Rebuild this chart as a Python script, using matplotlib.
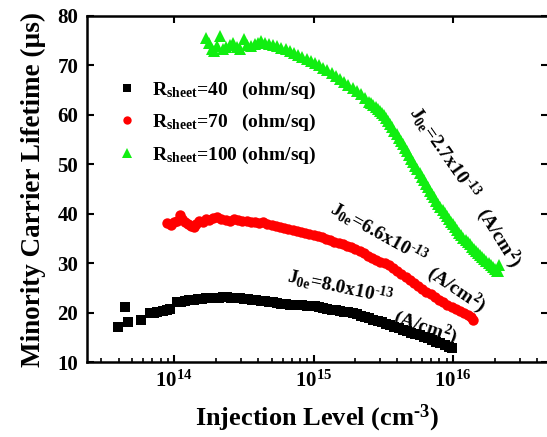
import matplotlib
matplotlib.use("Agg")
import matplotlib.pyplot as plt
from matplotlib.ticker import LogLocator, NullFormatter
import numpy as np

plt.rcParams['font.family'] = ['Liberation Serif', 'DejaVu Serif']
plt.rcParams['font.weight'] = 'bold'
plt.rcParams['mathtext.fontset'] = 'custom'
plt.rcParams['mathtext.rm'] = 'Liberation Serif:bold'
plt.rcParams['mathtext.it'] = 'Liberation Serif:italic:bold'
plt.rcParams['mathtext.bf'] = 'Liberation Serif:bold'
plt.rcParams['mathtext.default'] = 'rm'

# ---- data (log10 injection level, lifetime in us) ----
black_logx = [13.60, 13.65, 13.67, 13.76, 13.83, 13.86, 13.88, 13.92, 13.95, 13.97,
              14.02, 14.05, 14.08, 14.11, 14.14, 14.17, 14.20, 14.23, 14.26, 14.29,
              14.32, 14.35, 14.38, 14.41, 14.44, 14.47, 14.50, 14.53, 14.56, 14.59,
              14.62, 14.65, 14.68, 14.71, 14.74, 14.77, 14.80, 14.83, 14.86, 14.89,
              14.92, 14.95, 14.98, 15.01, 15.04, 15.07, 15.10, 15.13, 15.16, 15.19,
              15.22, 15.25, 15.28, 15.31, 15.34, 15.37, 15.40, 15.43, 15.46, 15.49,
              15.52, 15.55, 15.58, 15.61, 15.64, 15.67, 15.70, 15.73, 15.76, 15.79,
              15.82, 15.85, 15.88, 15.91, 15.94, 15.97, 15.99]
black_tau = [17.1, 21.2, 18.2, 18.6, 19.9, 20.0, 20.2, 20.5, 20.7, 20.9,
             22.2, 22.3, 22.5, 22.6, 22.7, 22.8, 22.9, 23.0, 23.0, 23.1,
             23.1, 23.2, 23.2, 23.1, 23.1, 23.0, 22.9, 22.8, 22.7, 22.6,
             22.5, 22.4, 22.3, 22.2, 22.0, 21.9, 21.8, 21.7, 21.7, 21.6,
             21.6, 21.5, 21.5, 21.4, 21.2, 21.0, 20.9, 20.7, 20.6, 20.4,
             20.3, 20.1, 19.9, 19.7, 19.4, 19.2, 18.9, 18.6, 18.3, 18.1,
             17.8, 17.5, 17.2, 16.9, 16.6, 16.3, 16.0, 15.8, 15.5, 15.2,
             14.9, 14.6, 14.2, 13.9, 13.5, 13.2, 13.0]

red_logx = [13.95, 13.98, 14.00, 14.02, 14.04, 14.06, 14.08, 14.10, 14.12, 14.14,
            14.16, 14.18, 14.21, 14.23, 14.25, 14.28, 14.31, 14.34, 14.37, 14.40,
            14.43, 14.46, 14.49, 14.52, 14.55, 14.58, 14.61, 14.64, 14.67, 14.70,
            14.73, 14.76, 14.79, 14.82, 14.85, 14.88, 14.91, 14.94, 14.97, 15.00,
            15.03, 15.06, 15.09, 15.12, 15.15, 15.18, 15.21, 15.24, 15.27, 15.30,
            15.33, 15.36, 15.39, 15.42, 15.45, 15.48, 15.51, 15.54, 15.57, 15.60,
            15.63, 15.66, 15.69, 15.72, 15.75, 15.78, 15.81, 15.84, 15.87, 15.90,
            15.93, 15.96, 15.99, 16.02, 16.05, 16.08, 16.11, 16.13, 16.14]
red_tau = [38.1, 37.8, 38.4, 38.6, 39.8, 38.9, 38.3, 38.0, 37.6, 37.4,
           38.0, 38.6, 38.4, 39.0, 38.8, 39.2, 39.4, 39.0, 38.8, 38.6,
           38.9, 38.7, 38.5, 38.6, 38.4, 38.3, 38.2, 38.3, 38.0, 37.8,
           37.5, 37.3, 37.1, 36.9, 36.7, 36.5, 36.3, 36.1, 35.9, 35.7,
           35.5, 35.3, 35.0, 34.7, 34.4, 34.1, 33.9, 33.6, 33.4, 33.0,
           32.5, 32.1, 31.6, 31.2, 30.8, 30.4, 30.1, 29.6, 29.0, 28.4,
           27.8, 27.2, 26.6, 26.0, 25.4, 24.9, 24.3, 23.8, 23.3, 22.7,
           22.2, 21.7, 21.2, 20.8, 20.4, 19.9, 19.5, 19.2, 18.6]

green_logx = [14.23, 14.25, 14.27, 14.29, 14.31, 14.33, 14.35, 14.37, 14.40, 14.42,
              14.45, 14.47, 14.50, 14.52, 14.55, 14.58, 14.60, 14.62, 14.65, 14.68,
              14.71, 14.74, 14.77, 14.80, 14.83, 14.86, 14.89, 14.92, 14.95, 14.98,
              15.01, 15.04, 15.07, 15.10, 15.13, 15.16, 15.19, 15.22, 15.25, 15.28,
              15.31, 15.34, 15.37,
              15.400, 15.415, 15.430, 15.445, 15.460, 15.475, 15.490, 15.505, 15.520, 15.535,
              15.550, 15.565, 15.580, 15.595, 15.610, 15.625, 15.640, 15.655, 15.670, 15.685,
              15.700, 15.715, 15.730, 15.745, 15.760, 15.775, 15.790, 15.805, 15.820, 15.835,
              15.850, 15.865, 15.880, 15.895, 15.910, 15.925, 15.940, 15.955, 15.970, 15.985,
              16.000, 16.015, 16.030, 16.045, 16.060, 16.075, 16.090, 16.105, 16.120, 16.135,
              16.150, 16.165, 16.180, 16.195, 16.210, 16.225, 16.240, 16.255, 16.270, 16.285,
              16.300, 16.315, 16.320, 16.330]
green_tau = [75.5, 74.6, 73.3, 73.0, 74.0, 75.9, 73.3, 73.8, 74.2, 74.5,
             73.8, 73.3, 75.3, 74.2, 74.0, 74.3, 74.6, 75.0, 74.6, 74.3,
             74.2, 74.0, 73.6, 73.3, 73.0, 72.6, 72.2, 71.8, 71.4, 70.9,
             70.5, 70.0, 69.5, 69.0, 68.5, 67.9, 67.3, 66.6, 66.0, 65.4,
             64.8, 64.2, 63.5,
             62.7, 62.4, 62.0, 61.7, 61.3, 60.9, 60.4, 59.9, 59.3, 58.7,
             58.1, 57.5, 56.8, 56.1, 55.4, 54.8, 54.1, 53.4, 52.7, 52.0,
             51.2, 50.5, 49.7, 49.0, 48.2, 47.5, 46.8, 46.1, 45.4, 44.7,
             44.0, 43.4, 42.7, 42.0, 41.4, 40.8, 40.2, 39.6, 39.0, 38.4,
             37.9, 37.3, 36.7, 36.2, 35.7, 35.2, 34.8, 34.3, 33.9, 33.4,
             33.0, 32.6, 32.2, 31.8, 31.4, 31.0, 30.6, 30.1, 29.7, 29.3,
             28.9, 28.5, 28.4, 29.6]

series_labels = [r'R$_{\rm sheet}$=40   (ohm/sq)',
                 r'R$_{\rm sheet}$=70   (ohm/sq)',
                 r'R$_{\rm sheet}$=100 (ohm/sq)']
x_ticks = [1e14, 1e15, 1e16]
x_ticklabels = [r'$\mathbf{10^{14}}$', r'$\mathbf{10^{15}}$', r'$\mathbf{10^{16}}$']
y_ticks = [10, 20, 30, 40, 50, 60, 70, 80]
annotations = [r'J$_{0e}$=2.7x10$^{‐13}$', r'J$_{0e}$=6.6x10$^{‐13}$',
               r'J$_{0e}$=8.0x10$^{‐13}$', r'(A/cm$^2$)']

fig = plt.figure(figsize=(5.47, 4.37), dpi=100)
ax = fig.add_axes([0.1585, 0.1705, 0.8433, 0.7929])

ax.plot(10 ** np.array(black_logx), black_tau, 's', color='black', ms=6.5, mew=0,
        label=series_labels[0])
ax.plot(10 ** np.array(red_logx), red_tau, 'o', color='#ff0000', ms=7.5, mew=0,
        label=series_labels[1])
ax.plot(10 ** np.array(green_logx), green_tau, '^', color='#11ee11', ms=8.5, mew=0,
        label=series_labels[2])

ax.set_xscale('log')
ax.set_xlim(10 ** 13.374, 10 ** 16.681)
ax.set_ylim(10, 80)
ax.set_xticks(x_ticks)
ax.set_xticklabels(x_ticklabels)
ax.xaxis.set_minor_locator(LogLocator(base=10, subs=np.arange(2, 10)))
ax.xaxis.set_minor_formatter(NullFormatter())
ax.set_yticks(y_ticks)

for s in ax.spines.values():
    s.set_linewidth(1.8)
ax.tick_params(which='major', direction='in', length=5, width=1.5,
               top=True, right=True, labelsize=15, pad=6)
ax.tick_params(which='minor', direction='in', length=3, width=1.2, top=False)
for lab in ax.get_yticklabels():
    lab.set_fontweight('bold')

ax.set_xlabel(r'Injection Level (cm$^{‐3}$)', fontsize=19, fontweight='bold', labelpad=8)
ax.set_ylabel('Minority Carrier Lifetime (\u00b5s)', fontsize=19.5, fontweight='bold', labelpad=8)

leg = ax.legend(loc='upper left', bbox_to_anchor=(0.045, 0.845), frameon=False,
                fontsize=14, handlelength=1.0, handletextpad=0.8, labelspacing=0.6,
                borderpad=0, markerscale=0.8)

ann = dict(fontsize=14, fontweight='bold', ha='center', va='center', rotation_mode='anchor')
ax.text(10 ** 15.94, 52.5, annotations[0], rotation=-55, **ann)
ax.text(10 ** 16.33, 35.3, annotations[3], rotation=-58, **ann)
ax.text(10 ** 15.47, 36.3, annotations[1], rotation=-29, **ann)
ax.text(10 ** 16.02, 24.8, annotations[3], rotation=-34, **ann)
ax.text(10 ** 15.19, 25.4, annotations[2], rotation=-12, **ann)
ax.text(10 ** 15.80, 17.1, annotations[3], rotation=-19, **ann)

fig.savefig('out.png', dpi=100)
